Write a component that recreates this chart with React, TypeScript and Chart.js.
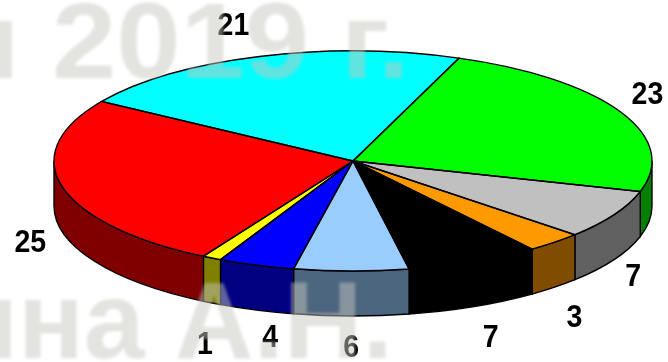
import React, { useEffect, useRef } from "react";
import { Chart, registerables } from "chart.js";

Chart.register(...registerables);

const sliceValues = [21, 23, 7, 3, 7, 6, 4, 1, 25];
const sliceColors = ["#00ffff", "#00ff00", "#c0c0c0", "#ff9900", "#000000", "#99ccff", "#0000ff", "#ffff00", "#ff0000"];
const wallColors = ["#008080", "#008000", "#606060", "#804c00", "#000000", "#4c6680", "#000080", "#808000", "#800000"];
const captionLines = ["н 2019 г.", "ина А.Н."];

// Disc geometry on the canvas.
const DISC = { cx: 353, cy: 161, rx: 299, ry: 110, depth: 45 };
const START_ANGLE = -57.2;

// Distance of each value label from the rim of its slice.
const labelShifts = [
  [-26, -31], [27, -17], [19, 17], [20, 30], [17, 31], [0, 31], [14, 27], [-7, 41], [-32, 11],
];

const discPlugin = {
  id: "tiltedDisc",
  beforeDatasetsDraw(chart: any) {
    const { ctx } = chart;
    const arcs = chart.getDatasetMeta(0).data;
    const { cx, cy, rx, ry, depth } = DISC;

    // Side wall: only the part of each slice facing the viewer.
    arcs.forEach((arc: any, i: number) => {
      const from = Math.max(arc.startAngle, 0);
      const to = Math.min(arc.endAngle, Math.PI);
      if (to <= from) return;
      ctx.beginPath();
      ctx.ellipse(cx, cy, rx, ry, 0, from, to);
      ctx.ellipse(cx, cy + depth, rx, ry, 0, to, from, true);
      ctx.closePath();
      ctx.fillStyle = wallColors[i];
      ctx.fill();
      ctx.lineWidth = 1.4;
      ctx.strokeStyle = "#000";
      ctx.stroke();
    });

    // The library's arcs become the squashed top face.
    const { x, y, outerRadius } = arcs[0];
    ctx.save();
    ctx.translate(cx, cy);
    ctx.scale(rx / outerRadius, ry / outerRadius);
    ctx.translate(-x, -y);
  },
  afterDatasetsDraw(chart: any) {
    const { ctx } = chart;
    ctx.restore();
    const arcs = chart.getDatasetMeta(0).data;
    const { cx, cy, rx, ry, depth } = DISC;

    arcs.forEach((arc: any) => {
      ctx.beginPath();
      ctx.moveTo(cx, cy);
      ctx.ellipse(cx, cy, rx, ry, 0, arc.startAngle, arc.endAngle);
      ctx.closePath();
      ctx.lineWidth = 1.4;
      ctx.strokeStyle = "#000";
      ctx.stroke();
    });

    ctx.fillStyle = "#000";
    ctx.textAlign = "center";
    ctx.textBaseline = "middle";
    ctx.font = "bold 31px 'Liberation Sans'";
    arcs.forEach((arc: any, i: number) => {
      const mid = (arc.startAngle + arc.endAngle) / 2;
      const sin = Math.sin(mid);
      const px = cx + rx * Math.cos(mid) + labelShifts[i][0];
      const py = cy + ry * sin + (sin > 0 ? depth : 0) + labelShifts[i][1];
      ctx.save();
      ctx.translate(px, py);
      ctx.scale(0.92, 1);
      ctx.fillText(String(sliceValues[i]), 0, 1);
      ctx.restore();
    });
  },
  afterDraw(chart: any) {
    // Translucent caption lying over everything.
    const { ctx } = chart;
    ctx.save();
    ctx.filter = "blur(1.5px)";
    ctx.fillStyle = "rgba(197,197,192,0.49)";
    ctx.textAlign = "left";
    ctx.textBaseline = "alphabetic";
    ctx.save();
    ctx.font = "bold 108px 'Liberation Sans'";
    ctx.translate(-50, 78);
    ctx.scale(1.07, 1);
    ctx.fillText(captionLines[0], 0, 0);
    ctx.restore();
    ctx.save();
    ctx.font = "bold 109px 'Liberation Sans'";
    ctx.translate(-49, 358);
    ctx.fillText(captionLines[1], 0, 0);
    ctx.restore();
    ctx.restore();
  },
};

export default function App() {
  const canvasRef = useRef<HTMLCanvasElement>(null);

  useEffect(() => {
    const chart = new Chart(canvasRef.current!, {
      type: "pie",
      data: {
        labels: sliceValues.map(String),
        datasets: [
          {
            data: sliceValues,
            backgroundColor: sliceColors,
            borderWidth: 0,
            clip: false,
          } as any,
        ],
      },
      options: {
        animation: false,
        responsive: false,
        rotation: START_ANGLE,
        layout: { padding: 0 },
        plugins: { legend: { display: false }, tooltip: { enabled: false } },
      },
      plugins: [discPlugin],
    });
    return () => chart.destroy();
  }, []);

  return (
    <div style={{ position: "absolute", left: 0, top: 0, width: 668, height: 362, background: "#fff" }}>
      <canvas ref={canvasRef} width={668} height={362} style={{ display: "block" }} />
    </div>
  );
}
